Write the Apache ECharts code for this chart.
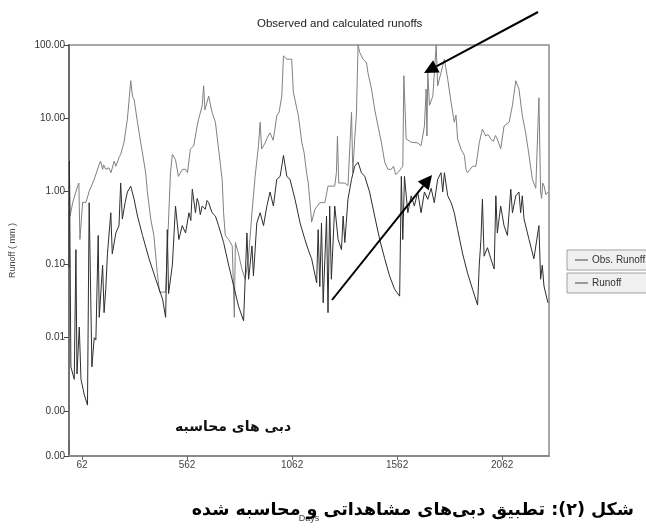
<!DOCTYPE html>
<html>
<head>
<meta charset="utf-8">
<script src="https://cdn.jsdelivr.net/npm/echarts@6/dist/echarts.min.js"></script>
<style>
  html, body { margin: 0; padding: 0; background: #fff; }
  #chart { width: 646px; height: 529px; }
</style>
</head>
<body>
<div id="chart"></div>
<script>
// Daily runoff (mm), log scale. Days since start of record.
const obsDays = [0, 1, 5, 18, 41, 47, 52, 65, 81, 96, 120, 144, 150, 160, 165, 175, 190, 200, 205, 215, 223, 230, 240, 246, 262, 278, 294, 302, 310,
  326, 341, 365, 373, 389, 404, 420, 431, 460,
  483, 492, 507, 521, 540, 555, 564, 578, 594, 610, 617, 634, 641, 647, 665, 681, 697, 712, 729, 736, 744, 760, 777, 787, 792, 807, 823, 839, 855, 871, 886,
  902, 910, 917, 934, 945, 957, 972, 980, 989, 1000, 1013, 1021, 1037, 1060, 1068, 1092, 1108, 1119, 1131, 1139, 1155, 1171, 1194, 1218, 1233, 1265,
  1273, 1278, 1284,
  1313, 1328, 1345, 1351, 1360, 1368, 1376, 1384, 1400, 1416, 1423, 1440, 1455, 1471, 1487, 1503, 1518, 1534, 1545, 1555, 1566, 1589, 1594, 1605,
  1629, 1660, 1676,
  1692, 1700, 1704, 1708, 1716, 1732, 1748, 1755, 1771, 1787, 1803, 1819, 1834, 1842, 1850, 1866, 1882, 1890, 1897, 1921, 1937, 1953, 1968, 1984,
  1995, 2008, 2020, 2030,
  2039, 2055, 2071, 2095, 2111, 2127, 2142, 2158, 2174, 2190, 2206, 2222, 2237, 2245, 2250, 2255, 2261, 2270, 2280];
const obsValues = [0.0004, 2.6, 0.46, 0.71, 1.18, 1.3, 0.22, 0.71, 0.71, 1.0, 1.46, 2.35, 2.6, 2.0, 2.3, 2.0, 2.1, 1.8, 1.9, 2.6, 2.2, 2.1, 3.0, 3.2,
  4.7, 9.7, 32.5, 20, 18,
  8.8, 4.7, 1.8, 1.0, 0.42, 0.25, 0.078, 0.042, 0.042,
  1.8, 3.2, 2.7, 1.6, 2.0, 2.0, 1.8, 3.8, 4.2, 7.8, 9.7, 14.8, 27.7, 13, 20, 12, 8.8, 3.8, 1.46, 0.51, 0.25, 0.22, 0.18, 0.019, 0.2, 0.14, 0.087, 0.063,
  0.13, 0.51, 1.6,
  4.2, 8.8, 3.8, 4.6, 5.5, 6.3, 5.0, 7.0, 10.8, 12, 20, 71, 64, 64, 22.5, 10.8, 4.7, 3.4, 1.8, 1.3, 0.38, 0.57, 0.7, 0.7, 1.18, 1.18, 1.8, 5.7, 1.3,
  1.3, 1.2, 12, 1.8, 5.2, 10.8, 100, 79, 64, 58, 42, 25, 13.3, 7.8, 4.7, 2.5, 2.0, 2.0, 2.2, 1.7, 1.8, 2.2, 38, 5.2, 4.7, 4.6, 4.2,
  7.8, 25, 5.7, 42, 15, 20, 100, 27.7, 42, 64, 34, 16.4, 8.8, 11, 5.2, 3.8, 3.1, 2.0, 1.8, 2.2, 2.2, 4.6, 7.1, 5.7, 6.0, 5.2, 4.8, 5.8,
  5.2, 3.8, 7.8, 8.8, 15, 32.5, 25, 10.8, 6.3, 3.1, 1.46, 1.1, 19, 0.98, 0.8, 1.3, 1.2, 0.9, 0.98];

const runoffDays = [0, 2, 9, 25, 33, 38, 49, 57, 72, 88, 96, 109, 120, 128, 139, 144, 160, 167, 175, 183, 199, 206, 223, 238, 246, 254, 267, 278, 294,
  310, 326, 350, 381, 413, 445, 460, 468, 474, 492, 507, 523, 539, 555, 571, 580, 587, 602, 610, 617, 625, 634, 649, 657, 665, 681, 697, 712, 736, 760,
  784, 807, 831,
  839, 847, 855, 871, 878, 894, 910, 926, 942, 957, 973, 989, 1005, 1021, 1037, 1052, 1076, 1100, 1123, 1142, 1155, 1179, 1186, 1194, 1202, 1210,
  1226, 1233, 1241, 1249, 1265, 1281, 1297, 1305, 1313, 1328, 1345, 1360, 1376, 1392, 1408, 1431, 1455, 1479, 1503, 1526, 1550, 1574, 1582, 1589,
  1597, 1613, 1629, 1644, 1660, 1676, 1692, 1708, 1724, 1739, 1755, 1771, 1779, 1787, 1803, 1819, 1834, 1850, 1874, 1897, 1921, 1945, 1953, 1961,
  1968, 1976, 1992, 2008, 2024, 2032, 2039, 2055, 2071, 2087, 2103, 2111, 2127, 2142, 2150, 2158, 2166, 2190, 2213, 2237, 2245, 2253, 2261, 2280];
const runoffValues = [0.09, 2.6, 0.004, 0.0027, 0.16, 0.0032, 0.014, 0.0027, 0.0017, 0.0012, 0.7, 0.004, 0.01, 0.0093, 0.25, 0.019, 0.098, 0.022,
  0.046, 0.14, 0.51, 0.14, 0.27, 0.34, 1.3, 0.42, 0.7, 0.98, 1.18,
  0.78, 0.46, 0.25, 0.12, 0.063, 0.034, 0.019, 0.3, 0.04, 0.098, 0.63, 0.22, 0.34, 0.27, 0.51, 0.4, 1.07, 0.51, 0.8, 0.7, 0.48, 0.63, 0.57, 0.75,
  0.7, 0.51, 0.46, 0.34, 0.2, 0.098,
  0.051, 0.027, 0.017,
  0.018, 0.27, 0.063, 0.18, 0.07, 0.37, 0.51, 0.34, 0.63, 0.98, 0.63, 1.46, 1.6, 3.1, 1.6, 1.46, 0.78, 0.37, 0.22, 0.15, 0.12, 0.056, 0.3, 0.05,
  0.37, 0.03,
  0.46, 0.022, 0.63, 0.063, 0.63, 0.22, 0.16, 0.46, 0.2, 0.78, 1.46, 2.2, 2.5, 1.8, 1.6, 0.98, 0.46, 0.22, 0.12, 0.07, 0.046, 0.037, 1.6, 0.22,
  1.6, 0.51, 0.87, 0.63, 0.98, 0.51, 0.98, 0.78, 1.1, 0.7, 1.46, 1.8, 0.98, 1.8, 0.87, 0.7, 0.51, 0.3, 0.14, 0.077, 0.046, 0.028, 0.098, 0.22,
  0.78, 0.13, 0.17, 0.12, 0.087, 0.87, 0.27, 0.63, 0.34, 0.25, 1.07, 0.51, 0.87, 0.98, 0.51, 0.87, 0.42, 0.22, 0.12, 0.34, 0.063, 0.098, 0.051, 0.03];

const xTickDays = [62, 562, 1062, 1562, 2062];

const pair = (days, vals) => days.map((d, i) => [d, vals[i]]);

const chart = echarts.init(document.getElementById('chart'), null, { renderer: 'canvas' });

// Arrow annotation: shaft plus a filled triangular head at the tip.
function arrow(tail, tip, headLen, headHalf) {
  const dx = tip[0] - tail[0], dy = tip[1] - tail[1];
  const len = Math.hypot(dx, dy);
  const ux = dx / len, uy = dy / len;
  const bx = tip[0] - ux * headLen, by = tip[1] - uy * headLen;
  return [
    { type: 'line', shape: { x1: tail[0], y1: tail[1], x2: bx, y2: by },
      style: { stroke: '#000', lineWidth: 2 }, z: 100 },
    { type: 'polygon', shape: { points: [tip, [bx - uy * headHalf, by + ux * headHalf], [bx + uy * headHalf, by - ux * headHalf]] },
      style: { fill: '#000' }, z: 100 }
  ];
}

const sans = 'Liberation Sans, Arial, sans-serif';

const legendBase = {
  orient: 'vertical', left: 567, itemWidth: 13, itemHeight: 1, icon: 'rect',
  backgroundColor: '#f0f0f0', borderColor: '#a0a0a0', borderWidth: 1,
  textStyle: { fontFamily: sans, fontSize: 10, color: '#333', lineHeight: 12, padding: [0, 0, 0, -1] }
};

chart.setOption({
  animation: false,
  backgroundColor: '#fff',
  title: [
    { text: 'Observed and calculated runoffs', left: 252, top: 13,
      textStyle: { fontFamily: sans, fontSize: 11.5, fontWeight: 'normal', color: '#222' } },
    { text: 'دبی های محاسبه', left: 170, top: 415,
      textStyle: { fontFamily: 'DejaVu Sans', fontSize: 14, fontWeight: 'bold', color: '#111' } },
    { text: 'شکل (۲): تطبیق دبی‌های مشاهداتی و محاسبه شده', right: 7, top: 496,
      textStyle: { fontFamily: 'DejaVu Sans', fontSize: 17.5, fontWeight: 'bold', color: '#000' } }
  ],
  legend: [
    Object.assign({ data: ['Obs. Runoff'], top: 250, padding: [4, 30, 4, 8] }, legendBase),
    Object.assign({ data: ['Runoff'], top: 273, padding: [4, 52, 4, 8] }, legendBase)
  ],
  grid: { left: 67, right: 97, top: 45, bottom: 73, show: true, borderColor: '#8a8a8a', borderWidth: 1.5, backgroundColor: '#fff' },
  xAxis: {
    type: 'value', min: 0, max: 2285,
    name: 'Days', nameLocation: 'middle', nameGap: 58,
    nameTextStyle: { fontFamily: sans, fontSize: 9, color: '#444' },
    axisLine: { show: true, lineStyle: { color: '#8a8a8a', width: 2 } },
    axisTick: { show: true, length: 4, customValues: xTickDays, lineStyle: { color: '#666' } },
    axisLabel: { customValues: xTickDays, fontFamily: sans, fontSize: 10, color: '#444', margin: 4,
      formatter: v => String(v) },
    splitLine: { show: false }
  },
  yAxis: {
    type: 'log', logBase: 10, min: 0.000242, max: 100,
    name: 'Runoff ( mm )', nameLocation: 'middle', nameGap: 52, nameRotate: 90,
    nameTextStyle: { fontFamily: sans, fontSize: 9, color: '#444' },
    axisLine: { show: true, lineStyle: { color: '#6a6a6a', width: 2 } },
    axisTick: { show: true, length: 5, lineStyle: { color: '#444' } },
    axisLabel: { fontFamily: sans, fontSize: 10, color: '#333', margin: 4, showMinLabel: true, showMaxLabel: true,
      formatter: v => Number(v).toFixed(2) },
    splitLine: { show: false }
  },
  series: [
    { name: 'Obs. Runoff', type: 'line', data: pair(obsDays, obsValues), symbol: 'none', clip: true,
      lineStyle: { color: '#808080', width: 1 }, itemStyle: { color: '#444' } },
    { name: 'Runoff', type: 'line', data: pair(runoffDays, runoffValues), symbol: 'none', clip: true,
      lineStyle: { color: '#2e2e2e', width: 1 }, itemStyle: { color: '#444' } }
  ],
  graphic: [
    ...arrow([538, 12], [424, 73], 14, 7),
    ...arrow([332, 300], [432, 175], 14, 7)
  ]
});
</script>
</body>
</html>
